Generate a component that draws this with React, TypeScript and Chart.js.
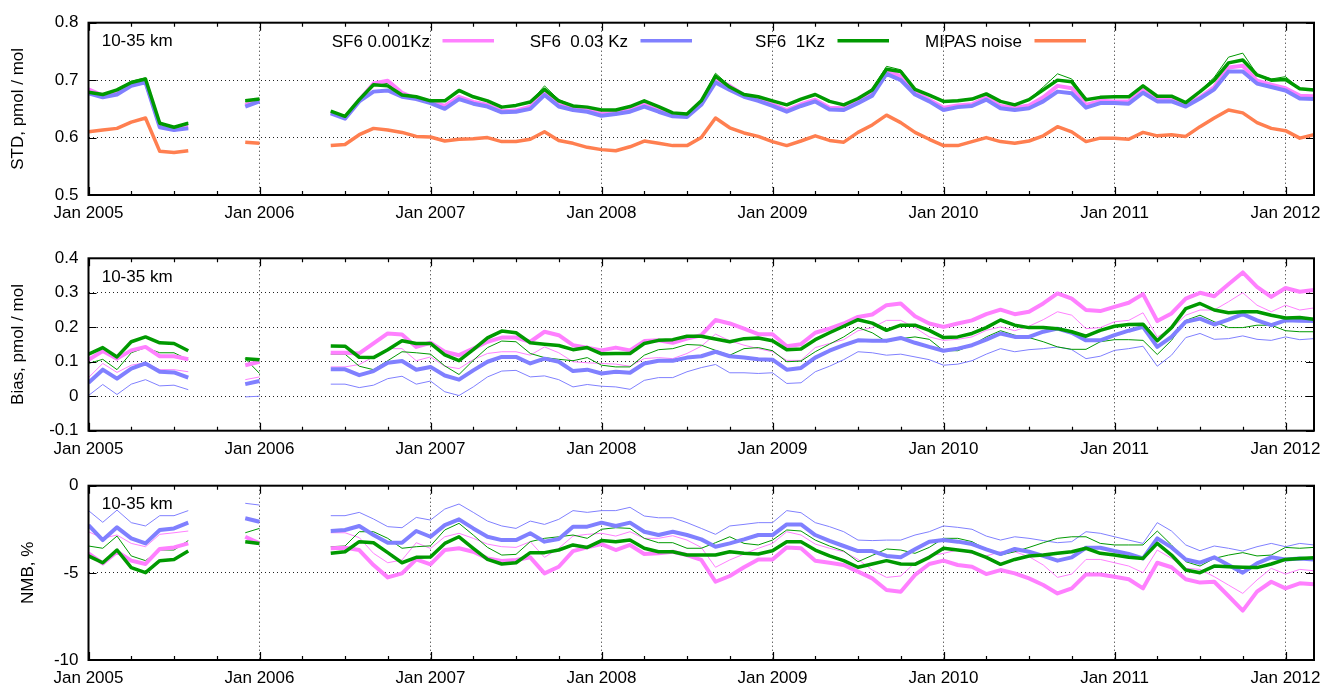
import React, { useEffect, useRef } from 'react';
import { Chart, registerables } from 'chart.js';

Chart.register(...registerables);

// month index: 0 = Jan 2005
const months = [
  0, 1, 2, 3, 4, 5, 6, 7, 11,
  12, 17, 18, 19, 20, 21, 22, 23,
  24, 25, 26, 27, 28, 29, 30, 31, 32, 33, 34, 35,
  36, 37, 38, 39, 40, 41, 42, 43, 44, 45, 46, 47,
  48, 49, 50, 51, 52, 53, 54, 55, 56, 57, 58, 59,
  60, 61, 62, 63, 64, 65, 66, 67, 68, 69, 70, 71,
  72, 73, 74, 75, 76, 77, 78, 79, 80, 81, 82, 83,
  84, 85, 86,
];

const yearLabels = ['Jan 2005', 'Jan 2006', 'Jan 2007', 'Jan 2008', 'Jan 2009', 'Jan 2010', 'Jan 2011', 'Jan 2012'];

// ---------- STD, pmol / mol ----------
const stdGreen = [
  0.679, 0.675, 0.683, 0.696, 0.702, 0.625, 0.618, 0.625, 0.664,
  0.667, 0.646, 0.637, 0.666, 0.692, 0.690, 0.674, 0.671,
  0.664, 0.664, 0.682, 0.671, 0.664, 0.653, 0.656, 0.662, 0.684, 0.664, 0.655, 0.653,
  0.648, 0.648, 0.654, 0.664, 0.654, 0.643, 0.641, 0.664, 0.707, 0.688, 0.675, 0.671,
  0.664, 0.657, 0.667, 0.675, 0.663, 0.657, 0.668, 0.683, 0.719, 0.715, 0.684, 0.674,
  0.663, 0.664, 0.667, 0.676, 0.663, 0.657, 0.666, 0.683, 0.700, 0.697, 0.666, 0.670,
  0.671, 0.671, 0.690, 0.672, 0.672, 0.661, 0.680, 0.700, 0.730, 0.735, 0.709, 0.700,
  0.701, 0.685, 0.683,
];
const stdGreenThin = [
  0.681, 0.676, 0.684, 0.698, 0.704, 0.626, 0.619, 0.626, 0.663,
  0.666, 0.646, 0.637, 0.667, 0.695, 0.694, 0.675, 0.671,
  0.664, 0.664, 0.683, 0.672, 0.664, 0.653, 0.656, 0.662, 0.690, 0.666, 0.656, 0.653,
  0.648, 0.648, 0.654, 0.664, 0.654, 0.643, 0.641, 0.666, 0.712, 0.690, 0.675, 0.671,
  0.664, 0.657, 0.667, 0.675, 0.663, 0.657, 0.668, 0.685, 0.724, 0.718, 0.685, 0.674,
  0.664, 0.665, 0.668, 0.677, 0.663, 0.657, 0.667, 0.688, 0.711, 0.702, 0.667, 0.670,
  0.672, 0.672, 0.691, 0.673, 0.673, 0.661, 0.681, 0.705, 0.740, 0.747, 0.710, 0.702,
  0.706, 0.685, 0.684,
];
const stdBlue = [
  0.677, 0.670, 0.675, 0.690, 0.696, 0.618, 0.613, 0.616, 0.654,
  0.663, 0.642, 0.633, 0.663, 0.680, 0.682, 0.671, 0.667,
  0.660, 0.650, 0.667, 0.659, 0.654, 0.644, 0.645, 0.650, 0.674, 0.654, 0.648, 0.645,
  0.638, 0.641, 0.645, 0.654, 0.645, 0.637, 0.636, 0.657, 0.696, 0.683, 0.671, 0.664,
  0.655, 0.645, 0.655, 0.663, 0.649, 0.648, 0.660, 0.673, 0.711, 0.700, 0.675, 0.663,
  0.648, 0.653, 0.655, 0.666, 0.651, 0.648, 0.651, 0.663, 0.680, 0.677, 0.652, 0.660,
  0.660, 0.659, 0.678, 0.663, 0.663, 0.654, 0.668, 0.684, 0.715, 0.715, 0.694, 0.688,
  0.682, 0.668, 0.667,
];
const stdPink = [
  0.684, 0.673, 0.678, 0.692, 0.698, 0.621, 0.616, 0.619, 0.657,
  0.664, 0.644, 0.635, 0.665, 0.694, 0.699, 0.678, 0.668,
  0.663, 0.655, 0.671, 0.662, 0.657, 0.646, 0.647, 0.654, 0.680, 0.657, 0.651, 0.648,
  0.642, 0.643, 0.648, 0.658, 0.647, 0.639, 0.638, 0.660, 0.701, 0.690, 0.674, 0.667,
  0.658, 0.648, 0.658, 0.666, 0.652, 0.651, 0.664, 0.678, 0.716, 0.707, 0.679, 0.666,
  0.652, 0.656, 0.658, 0.670, 0.655, 0.652, 0.656, 0.670, 0.690, 0.686, 0.657, 0.664,
  0.663, 0.663, 0.684, 0.667, 0.667, 0.656, 0.670, 0.688, 0.722, 0.725, 0.699, 0.692,
  0.686, 0.673, 0.672,
];
const mipasNoise = [
  0.610, 0.613, 0.616, 0.627, 0.634, 0.576, 0.574, 0.577, 0.592,
  0.590, 0.586, 0.588, 0.605, 0.616, 0.613, 0.609, 0.602,
  0.601, 0.594, 0.597, 0.598, 0.600, 0.593, 0.593, 0.597, 0.610, 0.595, 0.590, 0.583,
  0.579, 0.577, 0.584, 0.594, 0.590, 0.586, 0.586, 0.600, 0.634, 0.617, 0.608, 0.602,
  0.593, 0.586, 0.594, 0.603, 0.595, 0.592, 0.609, 0.622, 0.639, 0.626, 0.609, 0.597,
  0.586, 0.586, 0.593, 0.600, 0.593, 0.590, 0.594, 0.603, 0.619, 0.610, 0.593, 0.599,
  0.599, 0.597, 0.609, 0.603, 0.605, 0.602, 0.619, 0.634, 0.648, 0.643, 0.626, 0.616,
  0.612, 0.599, 0.605,
];

// ---------- Bias, pmol / mol ----------
const biasGreen = [
  0.122, 0.141, 0.114, 0.158, 0.172, 0.155, 0.153, 0.132, 0.109,
  0.106, 0.146, 0.145, 0.113, 0.112, 0.135, 0.161, 0.153,
  0.153, 0.120, 0.103, 0.135, 0.169, 0.189, 0.184, 0.155, 0.151, 0.147, 0.135, 0.141,
  0.123, 0.124, 0.124, 0.153, 0.162, 0.164, 0.174, 0.174, 0.166, 0.158, 0.167, 0.169,
  0.161, 0.135, 0.137, 0.164, 0.184, 0.203, 0.222, 0.212, 0.191, 0.206, 0.206, 0.191,
  0.170, 0.172, 0.182, 0.199, 0.221, 0.206, 0.199, 0.199, 0.196, 0.187, 0.174, 0.191,
  0.203, 0.208, 0.209, 0.161, 0.199, 0.254, 0.269, 0.250, 0.242, 0.245, 0.245, 0.235,
  0.227, 0.228, 0.223,
];
const biasPink = [
  0.106, 0.131, 0.109, 0.133, 0.143, 0.116, 0.116, 0.107, 0.090,
  0.100, 0.126, 0.126, 0.124, 0.153, 0.182, 0.179, 0.143,
  0.155, 0.129, 0.119, 0.138, 0.158, 0.170, 0.170, 0.158, 0.187, 0.177, 0.148, 0.141,
  0.133, 0.141, 0.133, 0.160, 0.162, 0.155, 0.167, 0.177, 0.221, 0.211, 0.196, 0.180,
  0.180, 0.145, 0.151, 0.184, 0.196, 0.211, 0.230, 0.237, 0.264, 0.269, 0.232, 0.211,
  0.201, 0.211, 0.220, 0.238, 0.251, 0.238, 0.245, 0.269, 0.298, 0.283, 0.250, 0.247,
  0.259, 0.271, 0.296, 0.218, 0.240, 0.283, 0.300, 0.290, 0.325, 0.359, 0.317, 0.288,
  0.314, 0.303, 0.308,
];
const biasBlue = [
  0.039, 0.077, 0.051, 0.080, 0.095, 0.071, 0.069, 0.054, 0.035,
  0.044, 0.078, 0.078, 0.061, 0.073, 0.097, 0.102, 0.077,
  0.085, 0.060, 0.048, 0.075, 0.100, 0.114, 0.114, 0.095, 0.109, 0.100, 0.073, 0.077,
  0.066, 0.071, 0.068, 0.095, 0.103, 0.103, 0.112, 0.116, 0.129, 0.116, 0.112, 0.107,
  0.106, 0.077, 0.082, 0.112, 0.132, 0.148, 0.162, 0.161, 0.161, 0.169, 0.155, 0.143,
  0.132, 0.138, 0.148, 0.164, 0.182, 0.172, 0.172, 0.187, 0.196, 0.184, 0.162, 0.162,
  0.177, 0.190, 0.201, 0.143, 0.172, 0.216, 0.225, 0.208, 0.222, 0.238, 0.220, 0.206,
  0.220, 0.219, 0.218,
];
const biasGreenThin = [
  0.095, 0.107, 0.077, 0.126, 0.141, 0.126, 0.126, 0.106, 0.109,
  0.066, 0.122, 0.122, 0.087, 0.077, 0.103, 0.129, 0.126,
  0.122, 0.088, 0.063, 0.104, 0.141, 0.160, 0.158, 0.124, 0.112, 0.107, 0.103, 0.112,
  0.090, 0.085, 0.085, 0.119, 0.135, 0.138, 0.150, 0.148, 0.133, 0.119, 0.138, 0.141,
  0.132, 0.100, 0.102, 0.129, 0.151, 0.172, 0.199, 0.184, 0.158, 0.167, 0.172, 0.165,
  0.132, 0.132, 0.148, 0.172, 0.190, 0.177, 0.170, 0.158, 0.143, 0.136, 0.136, 0.158,
  0.164, 0.164, 0.162, 0.121, 0.162, 0.220, 0.235, 0.216, 0.199, 0.199, 0.206, 0.206,
  0.190, 0.187, 0.187,
];
const biasPinkThin = [
  0.054, 0.095, 0.069, 0.090, 0.097, 0.077, 0.077, 0.071, 0.048,
  0.056, 0.085, 0.085, 0.092, 0.114, 0.138, 0.138, 0.103,
  0.114, 0.087, 0.080, 0.106, 0.124, 0.129, 0.129, 0.119, 0.143, 0.126, 0.100, 0.097,
  0.095, 0.093, 0.087, 0.109, 0.112, 0.109, 0.124, 0.145, 0.180, 0.161, 0.148, 0.138,
  0.129, 0.104, 0.104, 0.141, 0.153, 0.164, 0.190, 0.199, 0.220, 0.220, 0.199, 0.172,
  0.162, 0.165, 0.172, 0.191, 0.201, 0.190, 0.203, 0.222, 0.245, 0.235, 0.196, 0.199,
  0.216, 0.220, 0.242, 0.172, 0.196, 0.235, 0.250, 0.250, 0.274, 0.300, 0.264, 0.245,
  0.264, 0.250, 0.256,
];
const biasBlueThin = [
  0.002, 0.034, 0.005, 0.035, 0.048, 0.030, 0.032, 0.019, -0.002,
  0.000, 0.035, 0.035, 0.025, 0.032, 0.051, 0.058, 0.035,
  0.044, 0.013, 0.002, 0.027, 0.056, 0.073, 0.075, 0.056, 0.059, 0.048, 0.027, 0.034,
  0.029, 0.027, 0.020, 0.046, 0.054, 0.054, 0.071, 0.083, 0.092, 0.068, 0.068, 0.066,
  0.068, 0.037, 0.039, 0.071, 0.087, 0.106, 0.129, 0.126, 0.119, 0.122, 0.114, 0.106,
  0.090, 0.093, 0.103, 0.122, 0.138, 0.129, 0.135, 0.138, 0.143, 0.135, 0.109, 0.116,
  0.133, 0.138, 0.145, 0.087, 0.119, 0.170, 0.182, 0.165, 0.167, 0.175, 0.165, 0.162,
  0.172, 0.164, 0.167,
];

// ---------- NMB, % ----------
const nmbGreen = [
  -4.03, -4.42, -3.69, -4.70, -4.99, -4.30, -4.23, -3.75, -3.21,
  -3.31, -3.88, -3.79, -3.21, -3.27, -3.84, -4.42, -4.11,
  -4.09, -3.31, -2.93, -3.59, -4.23, -4.49, -4.42, -3.84, -3.84, -3.69, -3.40, -3.54,
  -3.15, -3.21, -3.12, -3.59, -3.79, -3.79, -3.98, -3.98, -3.98, -3.79, -3.88, -3.92,
  -3.73, -3.21, -3.21, -3.69, -4.03, -4.30, -4.68, -4.49, -4.30, -4.49, -4.51, -4.11,
  -3.59, -3.69, -3.79, -4.11, -4.51, -4.23, -4.03, -3.98, -3.88, -3.79, -3.59, -3.88,
  -3.98, -4.11, -4.17, -3.31, -3.98, -4.84, -4.99, -4.61, -4.65, -4.68, -4.70, -4.49,
  -4.23, -4.17, -4.13,
];
const nmbPink = [
  -3.88, -4.46, -3.79, -4.30, -4.49, -3.63, -3.54, -3.31, -2.93,
  -3.31, -3.59, -3.56, -3.69, -4.55, -5.26, -5.03, -4.23,
  -4.51, -3.69, -3.59, -3.79, -4.17, -4.32, -4.26, -4.11, -5.03, -4.65, -3.75, -3.54,
  -3.35, -3.69, -3.40, -3.92, -3.88, -3.79, -3.98, -4.26, -5.51, -5.18, -4.68, -4.23,
  -4.23, -3.54, -3.59, -4.30, -4.42, -4.55, -4.93, -5.32, -5.98, -6.08, -5.12, -4.49,
  -4.30, -4.55, -4.65, -5.07, -4.84, -5.03, -5.32, -5.70, -6.18, -5.89, -5.09, -5.09,
  -5.22, -5.37, -5.89, -4.42, -4.68, -5.37, -5.56, -5.51, -6.33, -7.17, -6.08, -5.51,
  -5.89, -5.60, -5.66,
];
const nmbBlue = [
  -2.26, -3.12, -2.39, -3.02, -3.31, -2.54, -2.45, -2.12, -1.87,
  -2.07, -2.60, -2.54, -2.31, -2.83, -3.27, -3.27, -2.60,
  -2.93, -2.26, -1.93, -2.45, -2.93, -3.12, -3.12, -2.73, -3.21, -3.06, -2.35, -2.35,
  -2.12, -2.31, -2.12, -2.64, -2.83, -2.64, -2.83, -3.08, -3.50, -3.31, -3.08, -2.83,
  -2.83, -2.22, -2.22, -2.83, -3.17, -3.46, -3.75, -3.75, -4.03, -4.11, -3.65, -3.21,
  -3.12, -3.21, -3.35, -3.65, -3.92, -3.63, -3.79, -4.03, -4.30, -4.11, -3.56, -3.56,
  -3.75, -3.92, -4.17, -3.02, -3.54, -4.23, -4.42, -4.11, -4.55, -4.99, -4.46, -4.11,
  -4.23, -4.17, -4.23,
];
const nmbGreenThin = [
  -3.46, -3.59, -2.89, -4.03, -4.30, -3.69, -3.69, -3.15, -2.70,
  -2.45, -3.50, -3.46, -2.64, -2.64, -3.02, -3.59, -3.50,
  -3.45, -2.54, -2.16, -2.83, -3.54, -3.98, -3.94, -3.21, -3.02, -2.93, -2.83, -3.02,
  -2.50, -2.41, -2.45, -3.02, -3.27, -3.27, -3.59, -3.59, -3.27, -2.93, -3.31, -3.40,
  -3.12, -2.54, -2.60, -3.12, -3.46, -3.75, -4.36, -4.00, -3.63, -3.69, -3.88, -3.54,
  -3.02, -3.02, -3.21, -3.65, -3.98, -3.79, -3.54, -3.27, -3.02, -2.93, -2.93, -3.31,
  -3.40, -3.40, -3.40, -2.60, -3.40, -4.36, -4.61, -4.17, -3.98, -3.84, -4.03, -3.98,
  -3.54, -3.59, -3.54,
];
const nmbPinkThin = [
  -2.64, -3.02, -2.83, -3.31, -3.50, -2.79, -2.70, -2.60, -3.00,
  -3.40, -2.70, -2.70, -2.98, -3.88, -4.42, -4.26, -3.27,
  -3.60, -2.93, -2.73, -3.02, -3.35, -3.50, -3.54, -3.21, -4.11, -3.59, -2.89, -2.79,
  -2.73, -2.89, -2.64, -3.02, -3.02, -2.87, -3.12, -3.54, -4.68, -4.26, -3.92, -3.59,
  -3.31, -2.64, -2.83, -3.35, -3.59, -3.79, -4.23, -4.84, -5.26, -5.18, -4.42, -4.03,
  -3.88, -3.69, -3.88, -4.03, -3.79, -3.79, -4.07, -4.55, -5.26, -5.07, -4.23, -4.23,
  -4.42, -4.61, -4.99, -3.69, -4.17, -4.74, -4.80, -5.22, -5.70, -6.18, -5.41, -4.74,
  -5.07, -4.80, -4.88,
];
const nmbBlueThin = [
  -1.43, -2.10, -1.40, -2.12, -2.31, -1.72, -1.72, -1.43, -1.01,
  -1.11, -1.72, -1.72, -1.53, -1.91, -2.35, -2.41, -1.82,
  -1.97, -1.34, -1.05, -1.53, -2.03, -2.31, -2.45, -2.03, -2.22, -1.93, -1.43, -1.53,
  -1.43, -1.43, -1.24, -1.74, -1.84, -1.84, -2.12, -2.45, -2.79, -2.31, -2.22, -2.12,
  -2.12, -1.43, -1.55, -2.12, -2.35, -2.64, -3.12, -3.15, -3.12, -3.12, -2.83, -2.64,
  -2.31, -2.39, -2.50, -2.89, -3.12, -2.93, -3.02, -3.15, -3.27, -3.21, -2.64, -2.73,
  -2.93, -3.12, -3.31, -2.12, -2.60, -3.40, -3.73, -3.46, -3.59, -3.75, -3.50, -3.31,
  -3.50, -3.31, -3.40,
];

const legendTexts = ['SF6 0.001Kz', 'SF6  0.03 Kz', 'SF6  1Kz', 'MIPAS noise'];
const panelLabel = '10-35 km';

const PINK = '#ff80ff';
const BLUE = '#8080ff';
const GREEN = '#009900';
const ORANGE = '#ff7f50';
const FONT_FAMILY = '"Liberation Sans", Arial, Helvetica, sans-serif';
const FONT_SIZE = 17;

type Series = { label: string; values: number[]; color: string; width: number };
type PanelCfg = {
  top: number; height: number; plotTop: number; plotBottom: number;
  yMin: number; yMax: number; yStep: number; yTitle: string; titlePad: number;
  series: Series[]; legend: boolean;
};

function toPoints(vals: number[]) {
  const pts: { x: number; y: number | null }[] = [];
  months.forEach((m, i) => {
    if (i > 0 && m - months[i - 1] > 1) pts.push({ x: m - 1, y: null });
    pts.push({ x: m, y: vals[i] });
  });
  return pts;
}

const decorPlugin = {
  id: 'decor',
  afterDatasetsDraw(chart: any, _args: any, opts: any) {
    const { ctx, chartArea: a, scales } = chart;
    const xs = scales.x;
    const ys = scales.y;
    ctx.save();
    ctx.strokeStyle = '#000';
    ctx.lineWidth = 1.2;
    ctx.setLineDash([]);
    ctx.beginPath();
    for (let m = 0; m <= 86; m += 3) {
      const px = Math.round(xs.getPixelForValue(m)) + 0.5;
      const len = m % 12 === 0 ? 8 : 4;
      ctx.moveTo(px, a.bottom); ctx.lineTo(px, a.bottom - len);
      ctx.moveTo(px, a.top); ctx.lineTo(px, a.top + len);
    }
    ys.ticks.forEach((t: any) => {
      const py = Math.round(ys.getPixelForValue(t.value)) + 0.5;
      ctx.moveTo(a.left, py); ctx.lineTo(a.left + 8, py);
      ctx.moveTo(a.right, py); ctx.lineTo(a.right - 8, py);
    });
    ctx.stroke();
    ctx.lineWidth = 2;
    ctx.strokeRect(a.left, a.top, a.right - a.left, a.bottom - a.top);

    ctx.fillStyle = '#000';
    ctx.font = `${FONT_SIZE}px ${FONT_FAMILY}`;
    ctx.textBaseline = 'alphabetic';
    ctx.textAlign = 'left';
    const cy = a.top + 17.5;
    ctx.fillText(panelLabel, 101.7, cy + 6.1);

    if (opts && opts.legend) {
      const rights = [430, 628, 825, 1022];
      const cols = [PINK, BLUE, GREEN, ORANGE];
      const widths = [3.5, 3.5, 3.5, 3.5];
      const ly = a.top + 18;
      legendTexts.forEach((t, i) => {
        ctx.textAlign = 'right';
        ctx.fillStyle = '#000';
        ctx.fillText(t, rights[i], ly + 6.1);
        ctx.strokeStyle = cols[i];
        ctx.lineWidth = widths[i];
        ctx.beginPath();
        ctx.moveTo(rights[i] + 12.5, ly);
        ctx.lineTo(rights[i] + 64, ly);
        ctx.stroke();
      });
    }
    ctx.restore();
  },
};

const near = (a: number, b: number) => Math.abs(a - b) < 1e-9;

function Panel({ cfg }: { cfg: PanelCfg }) {
  const ref = useRef<HTMLCanvasElement | null>(null);
  useEffect(() => {
    if (!ref.current) return;
    const font = { family: FONT_FAMILY, size: FONT_SIZE };
    const chart = new Chart(ref.current, {
      type: 'line',
      data: {
        datasets: cfg.series.map((s) => ({
          label: s.label,
          data: toPoints(s.values) as any,
          borderColor: s.color,
          backgroundColor: s.color,
          borderWidth: s.width,
          pointRadius: 0,
          tension: 0,
          fill: false,
          spanGaps: false,
          borderJoinStyle: 'round',
        })),
      },
      options: {
        responsive: false,
        animation: false,
        events: [],
        layout: { padding: { top: cfg.plotTop - cfg.top, right: 10, left: 0, bottom: 0 } },
        plugins: {
          legend: { display: false },
          tooltip: { enabled: false },
          decor: { legend: cfg.legend },
        } as any,
        scales: {
          x: {
            type: 'linear',
            min: 0,
            max: 86,
            afterBuildTicks: (s: any) => {
              s.ticks = s.ticks.filter((t: any) => t.value % 12 === 0);
            },
            afterFit: (s: any) => {
              s.height = cfg.top + cfg.height - cfg.plotBottom;
              s.paddingLeft = 0;
              s.paddingRight = 0;
            },
            ticks: {
              stepSize: 12,
              includeBounds: false,
              autoSkip: false,
              maxRotation: 0,
              minRotation: 0,
              padding: 8,
              color: '#000',
              font,
              callback: (v: any) => yearLabels[Math.round(Number(v) / 12)] ?? '',
            },
            grid: {
              drawTicks: false,
              lineWidth: 1,
              color: (c: any) => (c.tick && (near(c.tick.value, 0) || near(c.tick.value, 86)) ? 'rgba(0,0,0,0)' : '#222'),
            },
            border: { display: false, dash: [1, 3] },
          },
          y: {
            type: 'linear',
            min: cfg.yMin,
            max: cfg.yMax,
            afterFit: (s: any) => {
              s.width = 88.5;
              s.paddingTop = 0;
              s.paddingBottom = 0;
            },
            ticks: {
              stepSize: cfg.yStep,
              padding: 10,
              color: '#000',
              font,
              callback: (v: any) => String(Math.round(Number(v) * 10) / 10),
            },
            grid: {
              drawTicks: false,
              lineWidth: 1,
              color: (c: any) => (c.tick && (near(c.tick.value, cfg.yMin) || near(c.tick.value, cfg.yMax)) ? 'rgba(0,0,0,0)' : '#222'),
            },
            border: { display: false, dash: [1, 3] },
            title: {
              display: true,
              text: cfg.yTitle,
              color: '#000',
              font,
              padding: { top: cfg.titlePad, bottom: 0 },
            },
          },
        },
      } as any,
      plugins: [decorPlugin],
    });
    return () => chart.destroy();
  }, [cfg]);
  return (
    <canvas
      ref={ref}
      width={1324}
      height={cfg.height}
      style={{ position: 'absolute', left: 0, top: cfg.top, width: 1324, height: cfg.height }}
    />
  );
}

const panels: PanelCfg[] = [
  {
    top: 0, height: 232, plotTop: 22.7, plotBottom: 195,
    yMin: 0.5, yMax: 0.8, yStep: 0.1, yTitle: 'STD, pmol / mol', titlePad: 8, legend: true,
    series: [
      { label: 'SF6 1Kz', values: stdGreen, color: GREEN, width: 3.5 },
      { label: 'SF6 0.03 Kz', values: stdBlue, color: BLUE, width: 4 },
      { label: 'SF6 0.001Kz', values: stdPink, color: PINK, width: 4 },
      { label: 'SF6 1Kz (thin)', values: stdGreenThin, color: GREEN, width: 1 },
      { label: 'MIPAS noise', values: mipasNoise, color: ORANGE, width: 3.5 },
    ],
  },
  {
    top: 232, height: 232, plotTop: 258.3, plotBottom: 430.7,
    yMin: -0.1, yMax: 0.4, yStep: 0.1, yTitle: 'Bias, pmol / mol', titlePad: 8, legend: false,
    series: [
      { label: 'SF6 1Kz', values: biasGreen, color: GREEN, width: 3.5 },
      { label: 'SF6 0.03 Kz', values: biasBlue, color: BLUE, width: 4 },
      { label: 'SF6 0.001Kz', values: biasPink, color: PINK, width: 4 },
      { label: 'SF6 1Kz (thin)', values: biasGreenThin, color: GREEN, width: 1 },
      { label: 'SF6 0.03 Kz (thin)', values: biasBlueThin, color: BLUE, width: 1 },
      { label: 'SF6 0.001Kz (thin)', values: biasPinkThin, color: PINK, width: 1 },
    ],
  },
  {
    top: 464, height: 222, plotTop: 485.7, plotBottom: 660,
    yMin: -10, yMax: 0, yStep: 5, yTitle: 'NMB, %', titlePad: 18, legend: false,
    series: [
      { label: 'SF6 1Kz', values: nmbGreen, color: GREEN, width: 3.5 },
      { label: 'SF6 0.03 Kz', values: nmbBlue, color: BLUE, width: 4 },
      { label: 'SF6 0.001Kz', values: nmbPink, color: PINK, width: 4 },
      { label: 'SF6 1Kz (thin)', values: nmbGreenThin, color: GREEN, width: 1 },
      { label: 'SF6 0.03 Kz (thin)', values: nmbBlueThin, color: BLUE, width: 1 },
      { label: 'SF6 0.001Kz (thin)', values: nmbPinkThin, color: PINK, width: 1 },
    ],
  },
];

export default function App() {
  return (
    <div style={{ position: 'absolute', left: 0, top: 0, width: 1324, height: 686, background: '#fff' }}>
      {panels.map((p, i) => (
        <Panel key={i} cfg={p} />
      ))}
    </div>
  );
}
